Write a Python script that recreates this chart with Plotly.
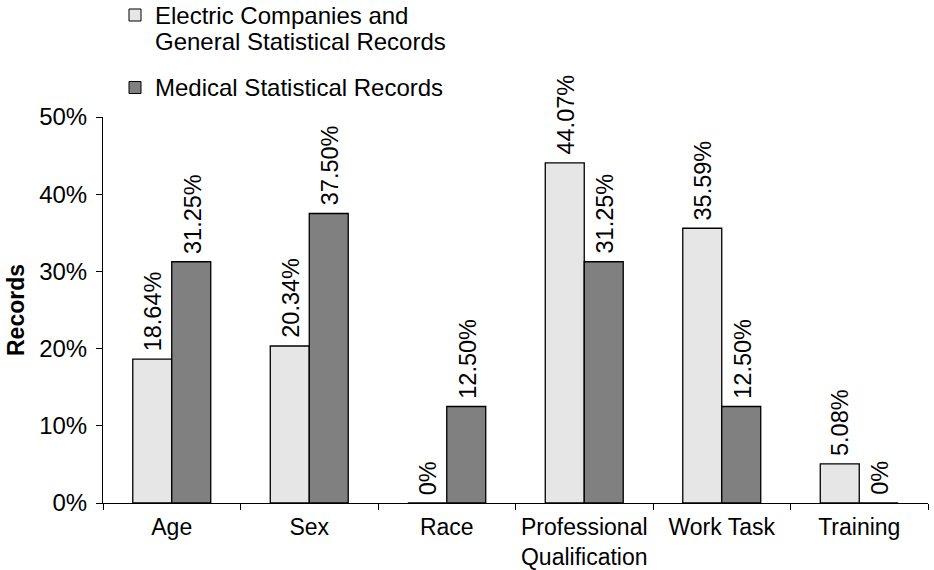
import plotly.graph_objects as go

categories = ["Age", "Sex", "Race", "Professional<br>Qualification", "Work Task", "Training"]
electric_general = [0.1864, 0.2034, 0.0, 0.4407, 0.3559, 0.0508]
medical = [0.3125, 0.3750, 0.1250, 0.3125, 0.1250, 0.0]
legend_lines = [["Electric Companies and", "General Statistical Records"], ["Medical Statistical Records"]]
y_ticks = [0, 0.1, 0.2, 0.3, 0.4, 0.5]

FONT = "Liberation Sans, Arial, sans-serif"
LIGHT = "#e6e6e6"
DARK = "#808080"
W, H = 934, 570
ML, MR, MT, MB = 103, 6, 117, 67
BAR_PX = 39  # width of one bar in pixels, used to offset value labels

PW, PH = W - ML - MR, H - MT - MB


def px_x(x):
    return (x - ML) / PW


def px_y(y):
    return (H - MB - y) / PH


fig = go.Figure()
for vals, color in [(electric_general, LIGHT), (medical, DARK)]:
    fig.add_trace(go.Bar(
        x=categories, y=vals, showlegend=False,
        marker=dict(color=color, line=dict(color="black", width=1.3)),
    ))

# value labels above each bar, rotated
annotations = []
for vals, shift in [(electric_general, -BAR_PX / 2), (medical, BAR_PX / 2)]:
    for cat, v in zip(categories, vals):
        txt = "0%" if v == 0 else f"{v * 100:.2f}%"
        annotations.append(dict(
            x=cat, y=v, xref="x", yref="y", text=txt, showarrow=False,
            textangle=-90, xanchor="center", yanchor="bottom",
            xshift=shift + 1, yshift=6,
            font=dict(family=FONT, size=23.5, color="black"),
        ))

# legend: swatches plus text lines
shapes = []
legend_items = [(LIGHT, 15, [15.5, 41.5]), (DARK, 87.5, [88])]
for (color, sq_y, line_ys), lines in zip(legend_items, legend_lines):
    shapes.append(dict(
        type="rect", xref="paper", yref="paper",
        x0=px_x(129), x1=px_x(141), y0=px_y(sq_y + 6), y1=px_y(sq_y - 6),
        fillcolor=color, line=dict(color="black", width=1),
    ))
    for ly, line in zip(line_ys, lines):
        annotations.append(dict(
            x=px_x(153), y=px_y(ly), xref="paper", yref="paper",
            text=line, showarrow=False, xanchor="left", yanchor="middle",
            font=dict(family=FONT, size=24, color="black"),
        ))

fig.update_layout(
    width=W, height=H,
    margin=dict(l=ML, r=MR, t=MT, b=MB),
    paper_bgcolor="white", plot_bgcolor="white",
    barmode="group", bargap=0.433, bargroupgap=0,
    font=dict(family=FONT, size=24, color="black"),
    showlegend=False,
    annotations=annotations,
    shapes=shapes,
    xaxis=dict(
        type="category", showline=True, linecolor="black", linewidth=1,
        ticks="outside", ticklen=6, tickcolor="black", tickson="boundaries",
        showgrid=False, automargin=False, ticklabelstandoff=3, tickangle=0,
        tickfont=dict(family=FONT, size=23, color="black"),
    ),
    yaxis=dict(
        range=[0, 0.5], tickvals=y_ticks, tickformat=".0%",
        showline=True, linecolor="black", linewidth=1,
        ticks="outside", ticklen=6, tickcolor="black",
        showgrid=False, zeroline=False, ticklabelstandoff=4, automargin=False,
        tickfont=dict(family=FONT, size=24, color="black"),
        title=dict(text="<b>Records</b>", standoff=8,
                   font=dict(family=FONT, size=23, color="black")),
    ),
)

fig.write_html("out.html")
